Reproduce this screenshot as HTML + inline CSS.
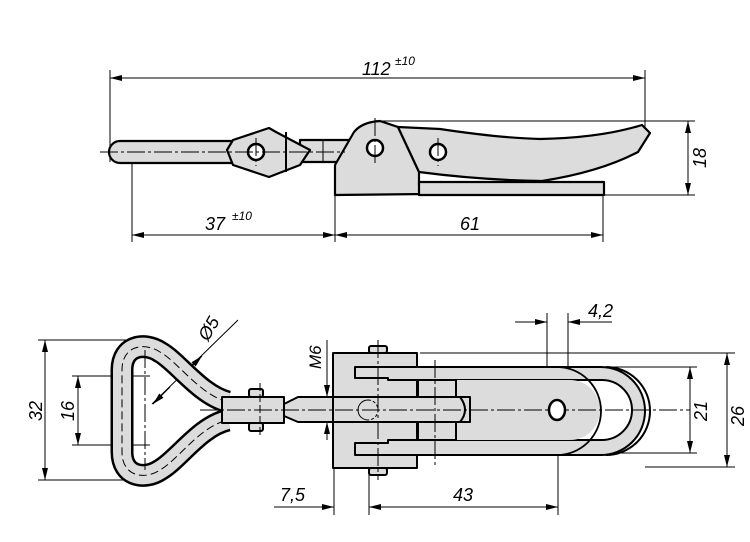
<!DOCTYPE html>
<html><head><meta charset="utf-8"><style>
html,body{margin:0;padding:0;background:#fff}
svg{display:block}
text{font-family:"Liberation Sans",sans-serif;font-style:italic;fill:#000}
</style></head><body>
<svg width="750" height="542" viewBox="0 0 750 542" xmlns="http://www.w3.org/2000/svg">
<defs>
<marker id="a" viewBox="0 0 12 6" refX="12" refY="3" markerWidth="12" markerHeight="6" orient="auto-start-reverse" markerUnits="userSpaceOnUse"><path d="M0,0 L12,3 L0,6 z" fill="#000"/></marker>
</defs>
<g stroke="#000" stroke-width="1" fill="none">
<line x1="110" y1="70" x2="110" y2="162"/>
<line x1="645" y1="70" x2="645" y2="130"/>
<line x1="110" y1="78" x2="645" y2="78" marker-start="url(#a)" marker-end="url(#a)"/>
<line x1="132" y1="160" x2="132" y2="242"/>
<line x1="335" y1="195" x2="335" y2="242"/>
<line x1="603" y1="195" x2="603" y2="242"/>
<line x1="132" y1="235" x2="335" y2="235" marker-start="url(#a)" marker-end="url(#a)"/>
<line x1="335" y1="235" x2="603" y2="235" marker-start="url(#a)" marker-end="url(#a)"/>
<line x1="380" y1="121" x2="695" y2="121"/>
<line x1="604" y1="195" x2="695" y2="195"/>
<line x1="688" y1="121" x2="688" y2="195" marker-start="url(#a)" marker-end="url(#a)"/>
</g>
<text x="362" y="75" font-size="18">112</text><text x="395" y="65" font-size="12">±10</text>
<text x="205" y="230" font-size="18">37</text><text x="232" y="220" font-size="12">±10</text>
<text x="460" y="230" font-size="18">61</text>
<text transform="translate(706,168) rotate(-90)" font-size="18">18</text>

<g stroke="#000" stroke-width="2.2" fill="#dcdcdc" stroke-linejoin="round">
<path d="M120,141 L232,141 L232,163 L120,163 A11,11 0 0 1 120,141 Z"/>
<rect x="300" y="140" width="50" height="22"/>
<path d="M227,150 L233,140 L269,128 L276,132 L310,150 L300,165 L269,177 L233,165 Z"/>
<path d="M335,195 L335,165 L354,132 Q362,122 380,121 L398,127 L419,172 L419,185 L425,194 Z"/>
<path d="M398,127 L440,129 Q500,138 540,139 Q600,138 642,125 L650,133 L638,152 Q600,172 542,181 Q480,180 419,172 Z"/>
<rect x="419" y="182" width="185" height="13"/>
</g>
<g stroke="#000" stroke-width="1" fill="none">
<line x1="323" y1="140" x2="323" y2="162"/>
<line x1="286" y1="132" x2="286" y2="172" stroke-width="2"/>
</g>
<g stroke="#000" stroke-width="2.5" fill="#fff">
<circle cx="256" cy="152" r="8"/><circle cx="375" cy="148" r="8"/><circle cx="438" cy="152" r="8"/>
</g>
<g stroke="#000" stroke-width="1" stroke-dasharray="18,3,3,3">
<line x1="100" y1="152" x2="345" y2="152"/>
<line x1="256" y1="138" x2="256" y2="166"/>
<line x1="375" y1="118" x2="375" y2="165"/>
<line x1="438" y1="138" x2="438" y2="166"/>
</g>

<g stroke="#000" stroke-width="1" fill="none">
<line x1="38" y1="340" x2="150" y2="340"/>
<line x1="38" y1="480" x2="150" y2="480"/>
<line x1="45" y1="340" x2="45" y2="480" marker-start="url(#a)" marker-end="url(#a)"/>
<line x1="72" y1="376" x2="150" y2="376"/>
<line x1="72" y1="445" x2="150" y2="445"/>
<line x1="78" y1="376" x2="78" y2="445" marker-start="url(#a)" marker-end="url(#a)"/>
<line x1="152" y1="404" x2="238" y2="320"/>
<line x1="170" y1="387" x2="153" y2="404" marker-end="url(#a)"/>
<line x1="185" y1="373" x2="202" y2="356" marker-end="url(#a)"/>
<line x1="327" y1="340" x2="327" y2="440"/>
<line x1="327" y1="380" x2="327" y2="397" marker-end="url(#a)"/>
<line x1="327" y1="440" x2="327" y2="422" marker-end="url(#a)"/>
<line x1="334" y1="468" x2="334" y2="515"/>
<line x1="369" y1="468" x2="369" y2="515"/>
<line x1="558" y1="415" x2="558" y2="515"/>
<line x1="274" y1="507" x2="334" y2="507" marker-end="url(#a)"/>
<line x1="369" y1="507" x2="558" y2="507" marker-start="url(#a)" marker-end="url(#a)"/>
<line x1="547" y1="313" x2="547" y2="415"/>
<line x1="568" y1="313" x2="568" y2="415"/>
<line x1="515" y1="322" x2="547" y2="322" marker-end="url(#a)"/>
<line x1="612" y1="322" x2="568" y2="322" marker-end="url(#a)"/>
<line x1="420" y1="353" x2="735" y2="353"/>
<line x1="645" y1="467" x2="735" y2="467"/>
<line x1="600" y1="367" x2="697" y2="367"/>
<line x1="600" y1="453" x2="697" y2="453"/>
<line x1="690" y1="367" x2="690" y2="453" marker-start="url(#a)" marker-end="url(#a)"/>
<line x1="727" y1="353" x2="727" y2="467" marker-start="url(#a)" marker-end="url(#a)"/>
</g>
<text transform="translate(42,421) rotate(-90)" font-size="18">32</text>
<text transform="translate(74,421) rotate(-90)" font-size="18">16</text>
<text transform="translate(208,342) rotate(-60)" font-size="18">Ø5</text>
<text transform="translate(321,369) rotate(-90)" font-size="17">M6</text>
<text x="588" y="317" font-size="18">4,2</text>
<text x="280" y="501" font-size="18">7,5</text>
<text x="453" y="501" font-size="18">43</text>
<text transform="translate(707,421) rotate(-90)" font-size="18">21</text>
<text transform="translate(744,426) rotate(-90)" font-size="18">26</text>

<path d="M228,402 C200,395 178,362 160,352 C145,342 122,345 122,370 L122,452 C122,477 145,480 160,470 C178,460 200,426 228,420" fill="none" stroke="#000" stroke-width="23"/>
<path d="M228,402 C200,395 178,362 160,352 C145,342 122,345 122,370 L122,452 C122,477 145,480 160,470 C178,460 200,426 228,420" fill="none" stroke="#dcdcdc" stroke-width="18"/>
<path d="M228,402 C200,395 178,362 160,352 C145,342 122,345 122,370 L122,452 C122,477 145,480 160,470 C178,460 200,426 228,420" fill="none" stroke="#000" stroke-width="1" stroke-dasharray="8,4"/>
<g stroke="#000" stroke-width="2" fill="#dcdcdc" stroke-linejoin="round">
<rect x="222" y="397" width="62" height="26"/>
<rect x="249" y="389" width="14" height="8" rx="2"/><rect x="249" y="423" width="14" height="8" rx="2"/>
<path d="M284,404 L298,397 L470,397 L470,422 L298,422 L284,416 Z"/>
<path d="M355,367 L601,367 A44,44 0 0 1 601,455 L355,455 Z"/>
<path d="M606,367 A44,44 0 0 1 606,455" fill="none"/>
<path d="M388,380 L602,380 A30,30 0 0 1 602,440 L388,440 Z" fill="#fff"/>
<path d="M417,380 L570,380 A30,30 0 0 1 570,440 L417,440 Z" stroke="none"/>
<path d="M557,367 A44,44 0 0 1 557,455" fill="none" stroke-width="1.8"/>
<rect x="418" y="380" width="38" height="60"/>
<path d="M333,353 L417,353 L417,367 L355,367 L355,378 L388,378 L388,380 L417,380 L417,440 L388,440 L388,443 L355,443 L355,455 L417,455 L417,468 L333,468 Z"/>
<rect x="369" y="346" width="18" height="7" rx="2"/><rect x="369" y="468" width="18" height="7" rx="2"/>
<rect x="333" y="397" width="137" height="25"/>
<path d="M460,397 Q470,410 460,422" fill="none"/>
</g>
<g stroke="#000" stroke-width="1" fill="none">
<path d="M368,400 A10,10 0 0 0 368,420" />
<path d="M368,400 A10,10 0 0 1 368,420" stroke-dasharray="3,2"/>
<line x1="435" y1="360" x2="435" y2="465" stroke-dasharray="18,3,3,3"/>
<line x1="378" y1="340" x2="378" y2="480" stroke-dasharray="18,3,3,3"/>
<line x1="260" y1="383" x2="260" y2="436" stroke-dasharray="8,3"/>
<line x1="145" y1="350" x2="145" y2="470" stroke-dasharray="18,3,3,3"/>
<line x1="200" y1="410" x2="690" y2="410" stroke-dasharray="18,3,3,3"/>
</g>
<ellipse cx="557" cy="410" rx="8" ry="10" fill="#fff" stroke="#000" stroke-width="2.5"/>
</svg>
</body></html>
